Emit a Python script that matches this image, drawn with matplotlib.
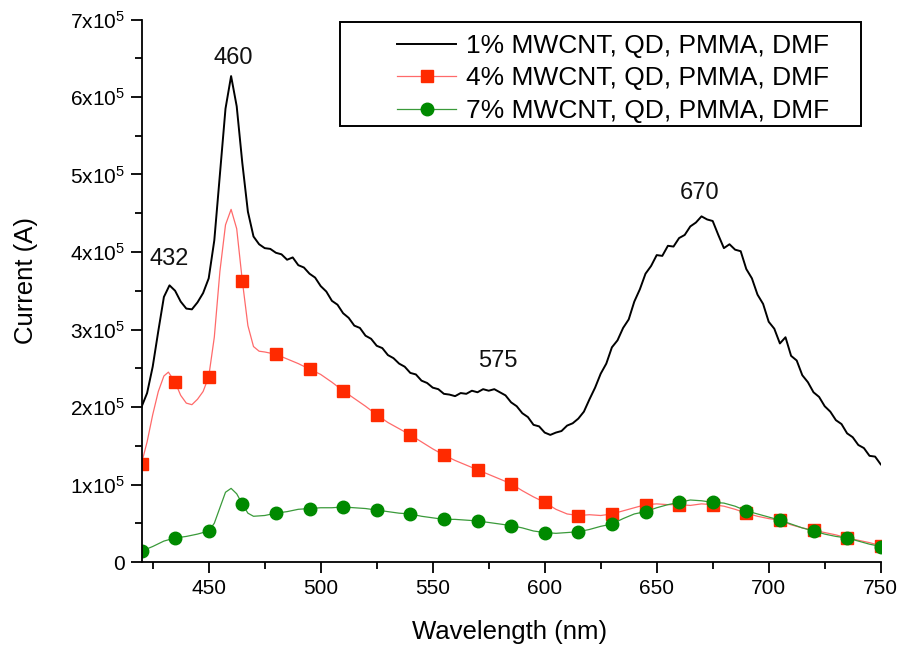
import numpy as np
import matplotlib
matplotlib.use("Agg")
import matplotlib.pyplot as plt
from matplotlib.ticker import MultipleLocator, FuncFormatter
from matplotlib.patches import Rectangle

plt.rcParams['font.family'] = ['Liberation Sans', 'DejaVu Sans']
plt.rcParams['mathtext.fontset'] = 'custom'
plt.rcParams['mathtext.rm'] = 'Liberation Sans'
plt.rcParams['mathtext.default'] = 'regular'

# ---------------- data (current in units of 1e5 A) ----------------
labels = ["1% MWCNT, QD, PMMA, DMF",
          "4% MWCNT, QD, PMMA, DMF",
          "7% MWCNT, QD, PMMA, DMF"]

black_x_start = 420.0
black_x_step = 2.5
black_y = [
    2.00, 2.18, 2.52, 2.98, 3.42, 3.57, 3.50, 3.36, 3.27, 3.26,
    3.35, 3.47, 3.66, 4.15, 5.00, 5.85, 6.27, 5.88, 5.15, 4.52,
    4.20, 4.10, 4.05, 4.04, 3.99, 3.97, 3.90, 3.93, 3.83, 3.80,
    3.72, 3.67, 3.56, 3.49, 3.37, 3.32, 3.21, 3.15, 3.05, 3.02,
    2.92, 2.88, 2.79, 2.76, 2.67, 2.63, 2.56, 2.52, 2.44, 2.42,
    2.34, 2.31, 2.25, 2.23, 2.17, 2.16, 2.14, 2.18, 2.17, 2.21,
    2.19, 2.23, 2.21, 2.23, 2.19, 2.15, 2.06, 2.01, 1.92, 1.87,
    1.77, 1.75, 1.67, 1.64, 1.67, 1.69, 1.76, 1.79, 1.85, 1.94,
    2.10, 2.25, 2.43, 2.56, 2.77, 2.86, 3.02, 3.13, 3.36, 3.52,
    3.72, 3.82, 3.96, 3.95, 4.08, 4.07, 4.18, 4.22, 4.33, 4.38,
    4.46, 4.42, 4.40, 4.22, 4.05, 4.10, 4.03, 4.01, 3.78, 3.66,
    3.45, 3.33, 3.10, 3.01, 2.82, 2.90, 2.66, 2.60, 2.41, 2.32,
    2.19, 2.13, 2.01, 1.94, 1.83, 1.78, 1.66, 1.61, 1.51, 1.47,
    1.37, 1.36, 1.26,
]

red_x = [420, 422.5, 425, 427.5, 430, 432, 435, 437.5, 440, 442.5, 445, 447.5,
         450, 452.5, 455, 457.5, 460, 462.5, 465, 467.5, 470, 472.5, 475, 480,
         485, 490, 495, 500, 505, 510, 515, 520, 525, 530, 535, 540, 545, 550,
         555, 560, 565, 570, 575, 580, 585, 590, 595, 600, 605, 610, 615, 620,
         625, 630, 635, 640, 645, 650, 655, 660, 665, 670, 675, 680, 685, 690,
         695, 700, 705, 710, 715, 720, 725, 730, 735, 740, 745, 750]
red_y = [1.27, 1.55, 1.90, 2.20, 2.40, 2.45, 2.32, 2.15, 2.05, 2.03, 2.10, 2.20,
         2.39, 2.90, 3.75, 4.35, 4.55, 4.30, 3.63, 3.05, 2.78, 2.72, 2.71, 2.68,
         2.62, 2.56, 2.49, 2.42, 2.32, 2.21, 2.11, 2.01, 1.90, 1.80, 1.72, 1.64,
         1.55, 1.46, 1.38, 1.31, 1.25, 1.19, 1.13, 1.07, 1.01, 0.92, 0.84, 0.77,
         0.68, 0.62, 0.60, 0.61, 0.60, 0.62, 0.66, 0.70, 0.74, 0.75, 0.74, 0.74,
         0.73, 0.75, 0.74, 0.72, 0.68, 0.63, 0.59, 0.56, 0.54, 0.48, 0.44, 0.41,
         0.38, 0.35, 0.31, 0.28, 0.25, 0.21]

green_x = [420, 425, 430, 435, 440, 445, 450, 452.5, 455, 457.5, 460, 462.5,
           465, 467.5, 470, 475, 480, 485, 490, 495, 500, 505, 510, 515, 520,
           525, 530, 535, 540, 545, 550, 555, 560, 565, 570, 575, 580, 585, 590,
           595, 600, 605, 610, 615, 620, 625, 630, 635, 640, 645, 650, 655, 660,
           665, 670, 675, 680, 685, 690, 695, 700, 705, 710, 715, 720, 725, 730,
           735, 740, 745, 750]
green_y = [0.14, 0.20, 0.27, 0.31, 0.33, 0.36, 0.40, 0.50, 0.70, 0.90, 0.95, 0.88,
           0.75, 0.63, 0.59, 0.60, 0.63, 0.65, 0.68, 0.69, 0.70, 0.70, 0.71, 0.70,
           0.69, 0.67, 0.65, 0.63, 0.62, 0.59, 0.57, 0.55, 0.55, 0.54, 0.53, 0.51,
           0.49, 0.47, 0.44, 0.40, 0.38, 0.37, 0.38, 0.39, 0.42, 0.46, 0.49, 0.56,
           0.62, 0.65, 0.70, 0.74, 0.77, 0.80, 0.79, 0.77, 0.76, 0.72, 0.66, 0.62,
           0.58, 0.54, 0.49, 0.44, 0.40, 0.36, 0.33, 0.31, 0.27, 0.23, 0.20]

marker_spacing = 15  # markers every 15 nm

peak_labels = ["460", "432", "575", "670"]
peak_x = [460.8, 432.5, 579.2, 669.1]
peak_y = [6.50, 3.91, 2.59, 4.76]

scale = 1e5

# ---------------- figure ----------------
W, H = 902, 650
fig = plt.figure(figsize=(W / 100, H / 100), dpi=100)
AX_L, AX_R, AX_T, AX_B = 141.5, 880.7, 19.5, 562.0
ax = fig.add_axes([AX_L / W, (H - AX_B) / H, (AX_R - AX_L) / W, (AX_B - AX_T) / H])

bx = black_x_start + black_x_step * np.arange(len(black_y))
by = np.array(black_y) * scale
rx = np.array(red_x, dtype=float)
ry = np.array(red_y) * scale
gx = np.array(green_x, dtype=float)
gy = np.array(green_y) * scale

rmask = np.isclose(np.mod(rx - 420, marker_spacing), 0)
gmask = np.isclose(np.mod(gx - 420, marker_spacing), 0)

ax.plot(bx, by, color='black', lw=1.4, label=labels[0], zorder=3)
ax.plot(rx, ry, color='#ff6a6a', lw=0.9, marker='s', markersize=8.2,
        markerfacecolor='#ff2a00', markeredgecolor='#ff2a00',
        markevery=list(np.where(rmask)[0]), label=labels[1], zorder=2)
ax.plot(gx, gy, color='#3a9a3a', lw=0.9, marker='o', markersize=9,
        markerfacecolor='#008a00', markeredgecolor='#008a00',
        markevery=list(np.where(gmask)[0]), label=labels[2], zorder=2.5)

for t, x, y in zip(peak_labels, peak_x, peak_y):
    ax.text(x, y * scale, t, fontsize=17, ha='center', va='center', color='#111111')

ax.set_xlim(420, 750)
ax.set_ylim(0, 7e5)
ax.xaxis.set_major_locator(MultipleLocator(50))
ax.xaxis.set_minor_locator(MultipleLocator(25))
ax.yaxis.set_major_locator(MultipleLocator(1e5))
ax.yaxis.set_minor_locator(MultipleLocator(0.5e5))


def yfmt(v, pos):
    n = int(round(v / 1e5))
    if n == 0:
        return "0"
    return r"$\mathregular{%dx10^{5}}$" % n


ax.yaxis.set_major_formatter(FuncFormatter(yfmt))

for s in ['top', 'right']:
    ax.spines[s].set_visible(False)
for s in ['left', 'bottom']:
    ax.spines[s].set_linewidth(1.3)

ax.tick_params(which='major', direction='out', length=8, width=1.3,
               labelsize=15, pad=4)
ax.tick_params(which='minor', direction='out', length=5, width=1.3)

ax.set_xlabel("Wavelength (nm)", fontsize=18.5)
ax.set_ylabel("Current (A)", fontsize=18.5)
ax.xaxis.set_label_coords((510 - AX_L) / (AX_R - AX_L), -(620 - AX_B) / (AX_B - AX_T))
ax.yaxis.set_label_coords(-(AX_L - 38) / (AX_R - AX_L), (AX_B - 280) / (AX_B - AX_T))

leg = ax.legend(loc='upper left', bbox_to_anchor=(397 / W, 1 - 34 / H),
                bbox_transform=fig.transFigure, frameon=False, fontsize=19,
                handlelength=2.25, handletextpad=0.35, labelspacing=0.32,
                borderpad=0, borderaxespad=0, numpoints=1)

fig.patches.append(Rectangle((340 / W, 1 - 126 / H), (861 - 340) / W, (126 - 22) / H,
                             transform=fig.transFigure, fill=False,
                             edgecolor='black', lw=1.4))

fig.savefig("out.png", dpi=100)
